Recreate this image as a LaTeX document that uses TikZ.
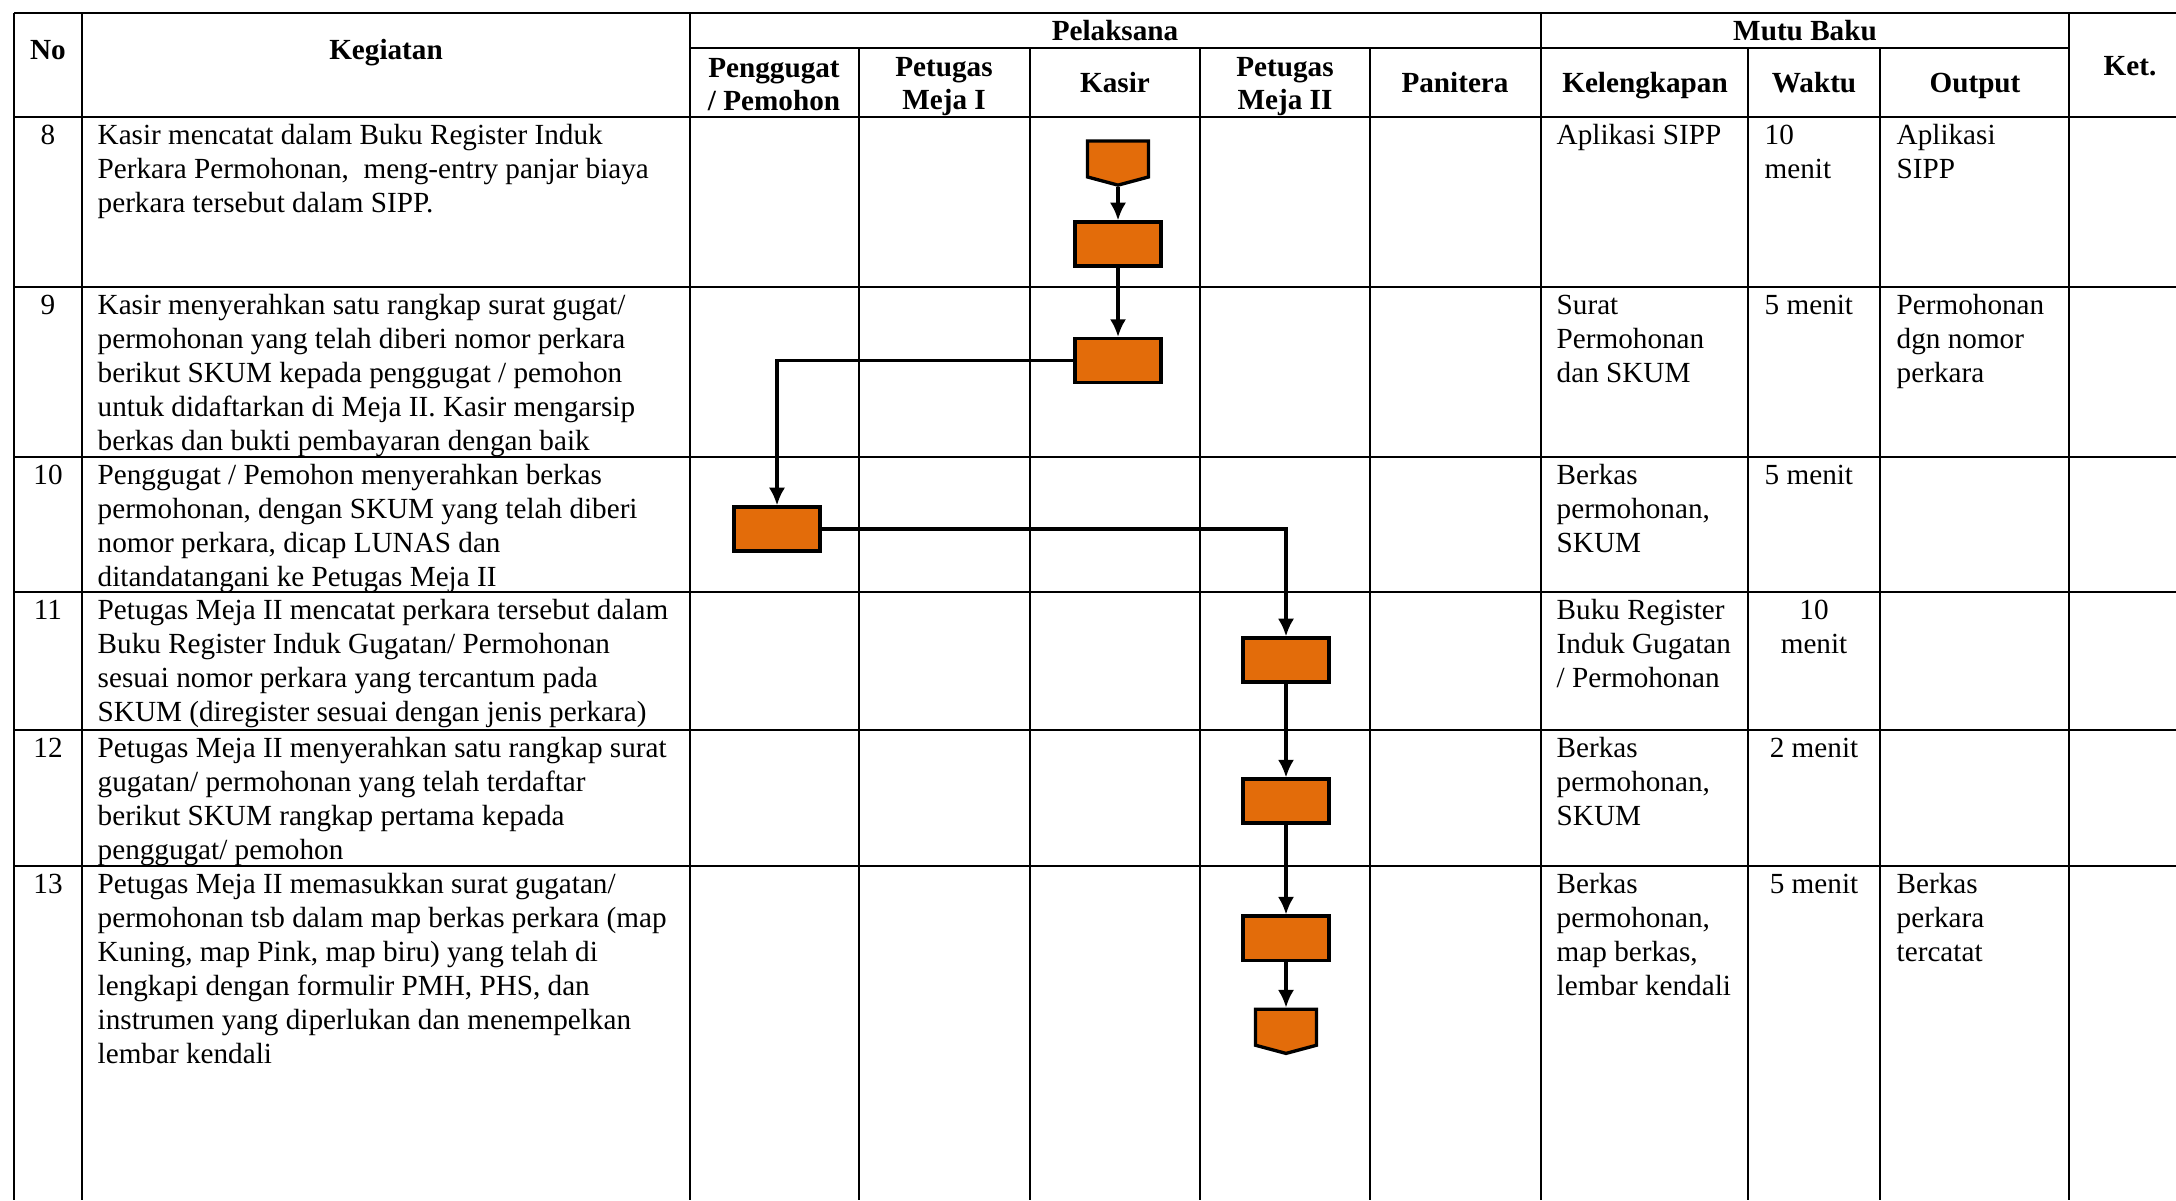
\documentclass[tikz,border=0pt]{standalone}
\usepackage{fontspec}
\setmainfont{Liberation Serif}
\usepackage{xcolor}
\usepackage{tikz}
\usetikzlibrary{arrows.meta}
\usetikzlibrary{shapes.symbols}
\definecolor{boxorange}{RGB}{227,108,10}
\newcommand{\bodysize}{\fontsize{8.3}{9.66}\selectfont}
\newcommand{\headsize}{\fontsize{8.3}{9.1}\selectfont\bfseries}
\tikzset{%
  rowline/.style={line width=0.8pt},
  colline/.style={line width=0.65pt},
  stepbox/.style={rectangle, draw=black, fill=boxorange, line width=0.95pt, minimum width=0.86cm, minimum height=0.44cm, inner sep=0pt},
  offpage/.style={signal, signal to=south, signal from=nowhere, signal pointer angle=150, draw=black, fill=boxorange, line width=0.95pt, minimum width=0.61cm, minimum height=0.36cm, inner sep=0pt},
  flow/.style={-{Latex[length=5pt,width=4.6pt]}, line width=0.9pt},
  head/.style={font=\headsize, align=center, inner sep=0pt, anchor=base},
  cell/.style={font=\bodysize, align=left, inner sep=0pt, anchor=base west},
  num/.style={font=\bodysize, align=center, inner sep=0pt, anchor=base}
}

\begin{document}
\begin{tikzpicture}[x=0.01cm, y=-0.01cm]
        \useasboundingbox (0,0) rectangle (2176,1200);

        % table grid
        \foreach \y in {13,117,287,457,592,730,866}
            \draw [rowline] (14,\y) -- (2176,\y);
        \draw [rowline] (690,48) -- (2069,48);
        \foreach \x in {14,82,690,1541,2069}
            \draw [colline] (\x,13) -- (\x,1200);
        \foreach \x in {859,1030,1200,1370,1748,1880}
            \draw [colline] (\x,48) -- (\x,1200);

        % header (base = last line)
        \node [head] (hno)    at (48,59)   {No};
        \node [head] (hkeg)   at (386,59)  {Kegiatan};
        \node [head] (hpel)   at (1115,41) {Pelaksana};
        \node [head] (hmutu)  at (1805,41) {Mutu Baku};
        \node [head] (hket)   at (2130,75) {Ket.};
        \node [head] (hpgg)   at (774,110) {Penggugat\\/ Pemohon};
        \node [head] (hmeja1) at (944,109) {Petugas\\Meja I};
        \node [head] (hkasir) at (1115,92) {Kasir};
        \node [head] (hmeja2) at (1285,109) {Petugas\\Meja II};
        \node [head] (hpan)   at (1455,92) {Panitera};
        \node [head] (hkel)   at (1645,92) {Kelengkapan};
        \node [head] (hwkt)   at (1814,92) {Waktu};
        \node [head] (hout)   at (1975,92) {Output};

        % row 8
        \node [num]  (n8)   at (48,144)   {8};
        \node [cell] (keg8) at (97,212)   {Kasir mencatat dalam Buku Register Induk\\Perkara Permohonan,~ meng-entry panjar biaya\\perkara tersebut dalam SIPP.};
        \node [cell] (kel8) at (1556,144) {Aplikasi SIPP};
        \node [cell] (wkt8) at (1764,178) {10\\menit};
        \node [cell] (out8) at (1896,178) {Aplikasi\\SIPP};

        % row 9
        \node [num]  (n9)   at (48,314)   {9};
        \node [cell] (keg9) at (97,450)   {Kasir menyerahkan satu rangkap surat gugat/\\permohonan yang telah diberi nomor perkara\\berikut SKUM kepada penggugat / pemohon\\untuk didaftarkan di Meja II. Kasir mengarsip\\berkas dan bukti pembayaran dengan baik};
        \node [cell] (kel9) at (1556,382) {Surat\\Permohonan\\dan SKUM};
        \node [cell] (wkt9) at (1764,314) {5 menit};
        \node [cell] (out9) at (1896,382) {Permohonan\\dgn nomor\\perkara};

        % row 10
        \node [num]  (n10)   at (48,484)   {10};
        \node [cell] (keg10) at (97,586)   {Penggugat / Pemohon menyerahkan berkas\\permohonan, dengan SKUM yang telah diberi\\nomor perkara, dicap LUNAS dan\\ditandatangani ke Petugas Meja II};
        \node [cell] (kel10) at (1556,552) {Berkas\\permohonan,\\SKUM};
        \node [cell] (wkt10) at (1764,484) {5 menit};

        % row 11
        \node [num]  (n11)   at (48,619)   {11};
        \node [cell] (keg11) at (97,721)   {Petugas Meja II mencatat perkara tersebut dalam\\Buku Register Induk Gugatan/ Permohonan\\sesuai nomor perkara yang tercantum pada\\SKUM (diregister sesuai dengan jenis perkara)};
        \node [cell] (kel11) at (1556,687) {Buku Register\\Induk Gugatan\\/ Permohonan};
        \node [num]  (wkt11) at (1814,653) {10\\menit};

        % row 12
        \node [num]  (n12)   at (48,757)   {12};
        \node [cell] (keg12) at (97,859)   {Petugas Meja II menyerahkan satu rangkap surat\\gugatan/ permohonan yang telah terdaftar\\berikut SKUM rangkap pertama kepada\\penggugat/ pemohon};
        \node [cell] (kel12) at (1556,825) {Berkas\\permohonan,\\SKUM};
        \node [num]  (wkt12) at (1814,757) {2 menit};

        % row 13
        \node [num]  (n13)   at (48,893)   {13};
        \node [cell] (keg13) at (97,1063)  {Petugas Meja II memasukkan surat gugatan/\\permohonan tsb dalam map berkas perkara (map\\Kuning, map Pink, map biru) yang telah di\\lengkapi dengan formulir PMH, PHS, dan\\instrumen yang diperlukan dan menempelkan\\lembar kendali};
        \node [cell] (kel13) at (1556,995)  {Berkas\\permohonan,\\map berkas,\\lembar kendali};
        \node [num]  (wkt13) at (1814,893)  {5 menit};
        \node [cell] (out13) at (1896,961)  {Berkas\\perkara\\tercatat};

        % flow
        \node [stepbox]                                     (k8)   at (1118,244) {};
        \node [offpage, above of=k8, node distance=0.85cm]  (off1) {};
        \node [stepbox, below of=k8, node distance=1.165cm] (k9)   {};
        \node [stepbox]                                     (p10)  at (777,529) {};
        \node [stepbox]                                     (m11)  at (1286,660) {};
        \node [stepbox, below of=m11, node distance=1.41cm] (m12)  {};
        \node [stepbox, below of=m12, node distance=1.37cm] (m13)  {};
        \node [offpage, below of=m13, node distance=0.89cm] (off2) {};

        \draw [flow] (off1) -- (k8);
        \draw [flow] (k8) -- (k9);
        \draw [flow] (k9) -| (p10);
        \draw [flow] (p10) -| (m11);
        \draw [flow] (m11) -- (m12);
        \draw [flow] (m12) -- (m13);
        \draw [flow] (m13) -- (off2);
    \end{tikzpicture}
\end{document}
